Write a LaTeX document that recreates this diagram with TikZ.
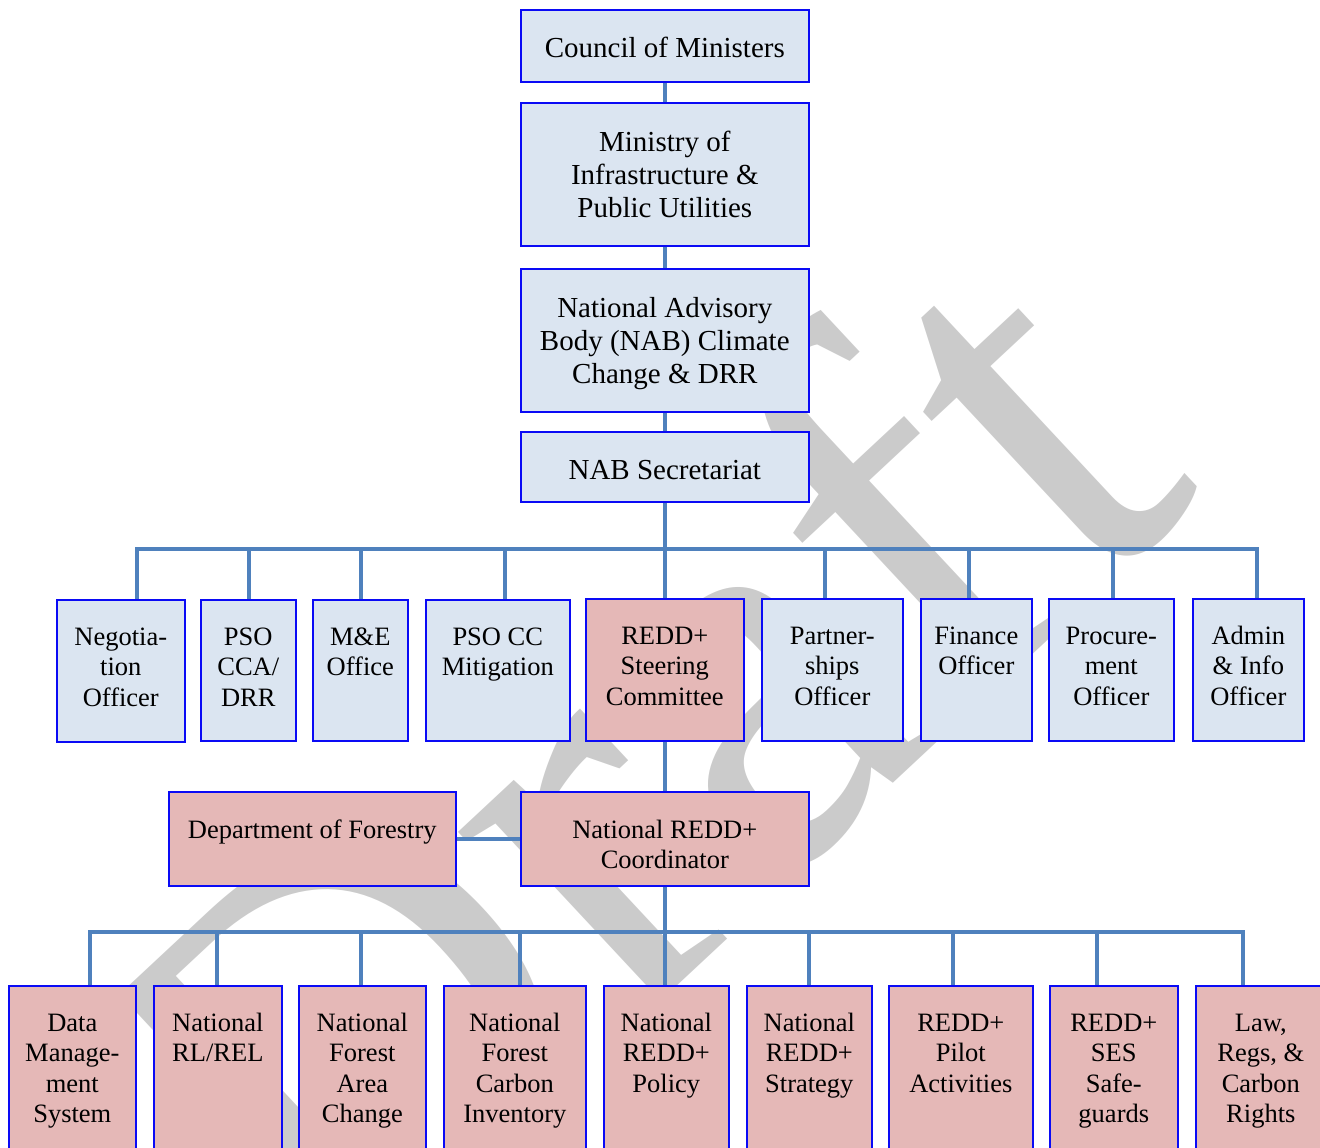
\documentclass[tikz,border=0pt]{standalone}
\usepackage{fontspec}
\setmainfont{Liberation Serif}
\definecolor{lineblue}{HTML}{4F81BD}
\definecolor{boxblue}{HTML}{0A0AF5}
\definecolor{lblue}{HTML}{DBE5F1}
\definecolor{lpink}{HTML}{E5B8B7}
\definecolor{wmgray}{HTML}{CBCBCB}
\newcommand\fontTop{\fontsize{29}{33}\selectfont}
\newcommand\fontLow{\fontsize{26.5}{30.5}\selectfont}
\tikzset{
  box/.style={draw=boxblue, line width=1.6pt, fill=lblue, inner sep=0pt, anchor=north west},
  pbox/.style={box, fill=lpink},
  conn/.style={draw=lineblue, line width=4pt},
  ttop/.style={align=center, font=\fontTop, anchor=north, inner sep=0pt},
  tlow/.style={align=center, font=\fontLow, anchor=north, inner sep=0pt},
  wm/.style={text=wmgray, inner sep=0pt, font=\fontsize{570}{570}\selectfont}
}
\begin{document}
\begin{tikzpicture}[x=1pt,y=-1pt]
\useasboundingbox (0,0) rectangle (1320,1148);
\clip (0,0) rectangle (1320,1148);
% watermark
\node[wm, anchor=base west, rotate=43] (draft) at (327,1312) {Draft};
% top column
\node[box, minimum width=288, minimum height=72] (council) at (520,9) {};
\node[box, minimum width=288, minimum height=143] (ministry) at (520,102) {};
\node[box, minimum width=288, minimum height=143] (nab) at (520,268) {};
\node[box, minimum width=288, minimum height=70] (secr) at (520,431) {};
% middle row
\node[box, minimum width=128, minimum height=142] (negot) at (56,599) {};
\node[box, minimum width=95, minimum height=141] (psoa) at (200,599) {};
\node[box, minimum width=95, minimum height=141] (me) at (312,599) {};
\node[box, minimum width=144, minimum height=141] (psob) at (425,599) {};
\node[pbox, minimum width=158, minimum height=142] (steer) at (585,598) {};
\node[box, minimum width=141, minimum height=142] (partner) at (761,598) {};
\node[box, minimum width=111, minimum height=142] (finance) at (920,598) {};
\node[box, minimum width=125, minimum height=142] (procure) at (1048,598) {};
\node[box, minimum width=111, minimum height=142] (admin) at (1192,598) {};
% coordinator row
\node[pbox, minimum width=287, minimum height=94] (dept) at (168,791) {};
\node[pbox, minimum width=288, minimum height=94] (coord) at (520,791) {};
% bottom row
\node[pbox, minimum width=127, minimum height=190] (data) at (8,985) {};
\node[pbox, minimum width=128, minimum height=190] (rl) at (153,985) {};
\node[pbox, minimum width=127, minimum height=190] (area) at (298,985) {};
\node[pbox, minimum width=142, minimum height=190] (carbon) at (443,985) {};
\node[pbox, minimum width=125, minimum height=190] (policy) at (603,985) {};
\node[pbox, minimum width=125, minimum height=190] (strategy) at (746,985) {};
\node[pbox, minimum width=144, minimum height=190] (pilot) at (888,985) {};
\node[pbox, minimum width=128, minimum height=190] (ses) at (1049,985) {};
\node[pbox, minimum width=130, minimum height=190] (law) at (1195,985) {};
% texts
\node[ttop] (council-t) at ([yshift=-25]council.north) {\strut Council of Ministers};
\node[ttop] (ministry-t) at ([yshift=-26]ministry.north) {\strut Ministry of\\Infrastructure \&\\Public Utilities};
\node[ttop] (nab-t) at ([yshift=-26]nab.north) {\strut National Advisory\\Body (NAB) Climate\\Change \& DRR};
\node[ttop] (secr-t) at ([yshift=-25]secr.north) {\strut NAB Secretariat};
\node[tlow] (negot-t) at ([yshift=-24.5]negot.north) {\strut Negotia-\\tion\\Officer};
\node[tlow] (psoa-t) at ([yshift=-24.5]psoa.north) {\strut PSO\\CCA/\\DRR};
\node[tlow] (me-t) at ([yshift=-24.5]me.north) {\strut M\&E\\Office};
\node[tlow] (psob-t) at ([yshift=-24.5]psob.north) {\strut PSO CC\\Mitigation};
\node[tlow] (steer-t) at ([yshift=-24.5]steer.north) {\strut REDD+\\Steering\\Committee};
\node[tlow] (partner-t) at ([yshift=-24.5]partner.north) {\strut Partner-\\ships\\Officer};
\node[tlow] (finance-t) at ([yshift=-24.5]finance.north) {\strut Finance\\Officer};
\node[tlow] (procure-t) at ([yshift=-24.5]procure.north) {\strut Procure-\\ment\\Officer};
\node[tlow] (admin-t) at ([yshift=-24.5]admin.north) {\strut Admin\\\& Info\\Officer};
\node[tlow] (dept-t) at ([yshift=-25.5]dept.north) {\strut Department of Forestry};
\node[tlow] (coord-t) at ([yshift=-25.5]coord.north) {\strut National REDD+\\Coordinator};
\node[tlow] (data-t) at ([yshift=-24.5]data.north) {\strut Data\\Manage-\\ment\\System};
\node[tlow] (rl-t) at ([yshift=-24.5]rl.north) {\strut National\\RL/REL};
\node[tlow] (area-t) at ([yshift=-24.5]area.north) {\strut National\\Forest\\Area\\Change};
\node[tlow] (carbon-t) at ([yshift=-24.5]carbon.north) {\strut National\\Forest\\Carbon\\Inventory};
\node[tlow] (policy-t) at ([yshift=-24.5]policy.north) {\strut National\\REDD+\\Policy};
\node[tlow] (strategy-t) at ([yshift=-24.5]strategy.north) {\strut National\\REDD+\\Strategy};
\node[tlow] (pilot-t) at ([yshift=-24.5]pilot.north) {\strut REDD+\\Pilot\\Activities};
\node[tlow] (ses-t) at ([yshift=-24.5]ses.north) {\strut REDD+\\SES\\Safe-\\guards};
\node[tlow] (law-t) at ([yshift=-24.5]law.north) {\strut Law,\\Regs, \&\\Carbon\\Rights};
% connectors
\coordinate (bus1) at (664,549);
\coordinate (bus2) at (664,932);
\draw[conn] (council.south) -- (ministry.north);
\draw[conn] (ministry.south) -- (nab.north);
\draw[conn] (nab.south) -- (secr.north);
\draw[conn] (secr.south) -- (steer.north);
\draw[conn] ([xshift=16]negot.north) |- (bus1) -| ([xshift=8.5]admin.north);
\draw[conn] ([xshift=0.5]psoa.north) -- ([xshift=0.5]psoa.north |- bus1);
\draw[conn] ([xshift=0.5]me.north) -- ([xshift=0.5]me.north |- bus1);
\draw[conn] ([xshift=7]psob.north) -- ([xshift=7]psob.north |- bus1);
\draw[conn] ([xshift=-7.5]partner.north) -- ([xshift=-7.5]partner.north |- bus1);
\draw[conn] ([xshift=-7.5]finance.north) -- ([xshift=-7.5]finance.north |- bus1);
\draw[conn] ([xshift=1.5]procure.north) -- ([xshift=1.5]procure.north |- bus1);
\draw[conn] (steer.south) -- (coord.north);
\draw[conn] (dept.east) -- (coord.west);
\draw[conn] (coord.south) -- (coord.south |- policy.north);
\draw[conn] ([xshift=17.5]data.north) |- (bus2) -| ([xshift=-17.5]law.north);
\draw[conn] ([xshift=-1]rl.north) -- ([xshift=-1]rl.north |- bus2);
\draw[conn] ([xshift=-1.5]area.north) -- ([xshift=-1.5]area.north |- bus2);
\draw[conn] ([xshift=5]carbon.north) -- ([xshift=5]carbon.north |- bus2);
\draw[conn] ([xshift=-0.5]strategy.north) -- ([xshift=-0.5]strategy.north |- bus2);
\draw[conn] ([xshift=-8]pilot.north) -- ([xshift=-8]pilot.north |- bus2);
\draw[conn] ([xshift=-17]ses.north) -- ([xshift=-17]ses.north |- bus2);
\end{tikzpicture}
\end{document}
